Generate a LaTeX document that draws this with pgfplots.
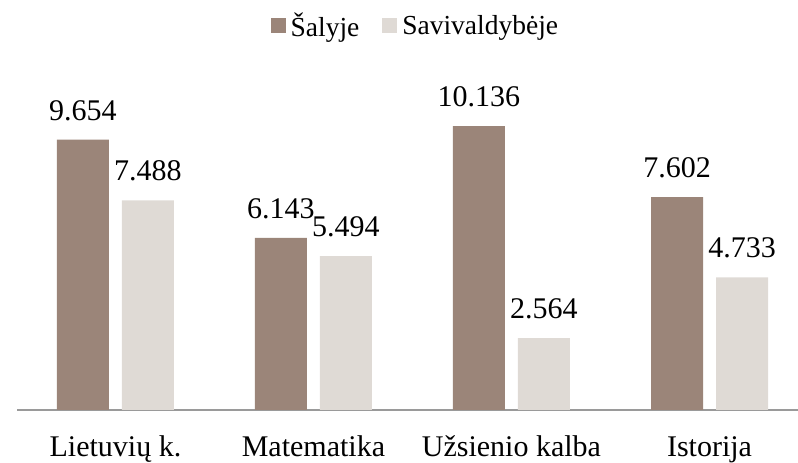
\documentclass[border=0pt]{standalone}
\usepackage{pgfplots}
\pgfplotsset{compat=1.18}
\usepackage{fontspec}
\setmainfont{Liberation Serif}
\definecolor{darkbar}{HTML}{9B8579}
\definecolor{lightbar}{HTML}{DFDAD5}
\definecolor{axisgray}{HTML}{9A9A9A}
\begin{document}
\begin{tikzpicture}[x=1bp,y=1bp]
\useasboundingbox (0,0) rectangle (798,463);
\begin{axis}[
  at={(17bp,53bp)}, anchor=south west,
  scale only axis,
  width=781bp, height=336bp,
  xmin=-0.497, xmax=3.447,
  ymin=0, ymax=12,
  hide y axis,
  axis x line*=bottom,
  x axis line style={-, draw=axisgray, line width=1.5bp},
  xtick={0,1,2,3},
  xticklabels={Lietuvių k., Matematika, Užsienio kalba, Istorija},
  major tick length=0pt,
  xticklabel style={font=\fontsize{30bp}{34bp}\selectfont, anchor=base, yshift=-47bp},
  ybar, bar width=52bp,
  point meta=explicit symbolic,
  nodes near coords,
  every node near coord/.append style={font=\fontsize{30bp}{34bp}\selectfont, inner sep=0pt, anchor=south, yshift=19bp},
  legend columns=2,
  legend style={at={(0.512,1)}, anchor=center, yshift=48.5bp, draw=none, fill=none,
    font=\fontsize{27.5bp}{30bp}\selectfont,
    nodes={inner xsep=5bp},
    /tikz/every even column/.append style={column sep=18bp}},
  legend image code/.code={\fill[#1] (0bp,-7.5bp) rectangle (15bp,7.5bp);},
  clip=false,
]
\addplot[fill=darkbar, draw=none, bar shift=-32.5bp] coordinates {
  (0,9.654)[9.654] (1,6.143)[6.143] (2,10.136)[10.136] (3,7.602)[7.602]};
\addplot[fill=lightbar, draw=none, bar shift=32.5bp] coordinates {
  (0,7.488)[7.488] (1,5.494)[5.494] (2,2.564)[2.564] (3,4.733)[4.733]};
\legend{Šalyje, Savivaldybėje}
\end{axis}
\end{tikzpicture}
\end{document}
